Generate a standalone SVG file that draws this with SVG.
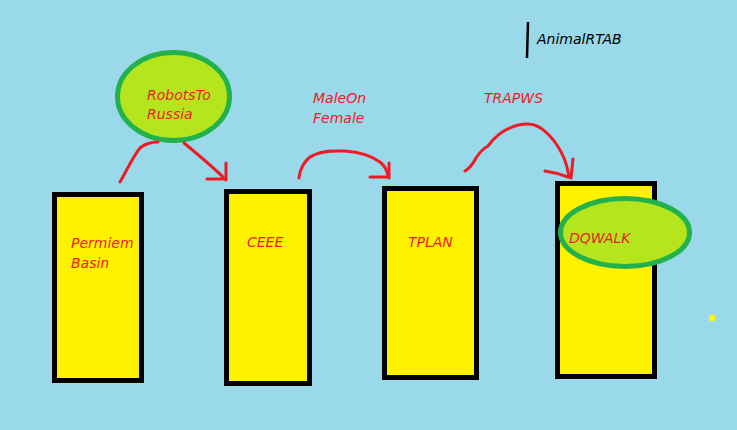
<svg xmlns="http://www.w3.org/2000/svg" width="737" height="430" viewBox="0 0 737 430">
<style>
.box{fill:#fff200;stroke:#000;stroke-width:5}
.ell{fill:#b5e61d;stroke:#22b14c;stroke-width:5}
.lbl{font-family:"DejaVu Sans",sans-serif;font-style:italic;font-size:14px;fill:#ed1c24}
.conn{fill:none;stroke:#ed1c24;stroke-width:3;stroke-linecap:round;stroke-linejoin:round}
</style>
<rect width="737" height="430" fill="#99d9ea"/>
<g id="node-permiem">
<rect class="box" x="54.5" y="194.5" width="87" height="186"/>
<text class="lbl" x="71" y="248">Permiem</text>
<text class="lbl" x="71" y="268">Basin</text>
</g>
<g id="node-ceee">
<rect class="box" x="226.5" y="191.5" width="83" height="192"/>
<text class="lbl" x="247" y="247">CEEE</text>
</g>
<g id="node-tplan">
<rect class="box" x="384.5" y="188.5" width="92" height="189"/>
<text class="lbl" x="408" y="247">TPLAN</text>
</g>
<g id="node-dqwalk-box">
<rect class="box" x="557.5" y="183.5" width="97" height="193"/>
</g>
<g id="node-dqwalk">
<ellipse class="ell" cx="625" cy="232.5" rx="64.5" ry="34"/>
<text class="lbl" x="569" y="243">DQWALK</text>
</g>
<g id="node-robots">
<ellipse class="ell" cx="173.5" cy="96.5" rx="56" ry="44"/>
<text class="lbl" x="147" y="100">RobotsTo</text>
<text class="lbl" x="147" y="119">Russia</text>
</g>
<g id="label-maleon">
<text class="lbl" x="313" y="103">MaleOn</text>
<text class="lbl" x="313" y="123">Female</text>
</g>
<g id="label-trapws">
<text class="lbl" x="484" y="103">TRAPWS</text>
</g>
<g id="legend">
<line x1="528" y1="22" x2="527" y2="58" stroke="#000" stroke-width="2.5"/>
<text x="537" y="44" font-family="DejaVu Sans,sans-serif" font-style="italic" font-size="14" fill="#000">AnimalRTAB</text>
</g>
<rect x="709" y="315" width="6" height="6" fill="#fff200"/>
<g id="connectors">
<path class="conn" d="M120,182 C126,172 132,158 140,148 C146,143 152,142 158,142"/>
<path class="conn" d="M184,143 C196,153 212,166 224,178"/>
<path class="conn" d="M207,179 L225,179 M226,163 L226,180"/>
<path class="conn" d="M299,178 C300,168 306,158 314,155 C324,150 335,151 345,151 C360,152 373,157 380,162 C385,166 387,170 388,176"/>
<path class="conn" d="M370,177 L388,177 M389,163 L389,178"/>
<path class="conn" d="M465,171 C470,168 473,164 476,158 C480,152 484,148 488,146 C494,138 502,131 510,128 C516,125 521,124 528,124 C536,124 542,128 548,134 C555,141 560,149 564,158 C567,165 568,171 569,177"/>
<path class="conn" d="M545,171 C552,172 560,174 568,177 M573,159 L571,178"/>
</g>
</svg>
